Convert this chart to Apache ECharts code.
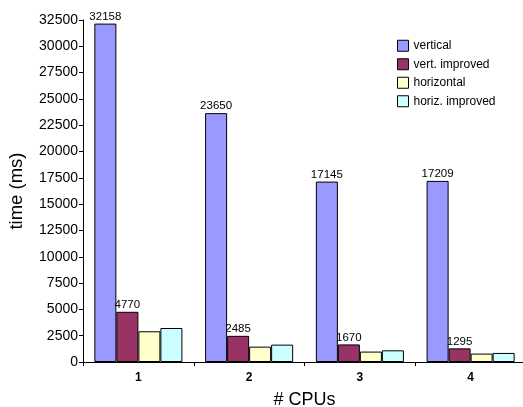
<!DOCTYPE html>
<html>
<head>
<meta charset="utf-8">
<script src="https://cdn.jsdelivr.net/npm/echarts@6/dist/echarts.min.js"></script>
<style>
  html, body { margin: 0; padding: 0; background: #fff; }
  #chart { width: 523px; height: 407px; }
</style>
</head>
<body>
<div id="chart"></div>
<script>
// data
const cpus = ['1', '2', '3', '4'];
const vertical = [32158, 23650, 17145, 17209];
const vertImproved = [4770, 2485, 1670, 1295];
const horizontal = [2920, 1460, 990, 800];
const horizImproved = [3230, 1650, 1110, 860];

const font = 'Liberation Sans, Arial, sans-serif';

function barSeries(name, data, color, withLabel) {
  return {
    name: name,
    type: 'bar',
    data: data,
    barGap: 0,
    barCategoryGap: '20.5%',
    itemStyle: { color: color, borderColor: '#000', borderWidth: 1 },
    label: {
      show: withLabel,
      position: 'top',
      distance: 1,
      color: '#000',
      fontFamily: font,
      fontSize: 11.5
    }
  };
}

const chart = echarts.init(document.getElementById('chart'));

chart.setOption({
  animation: false,
  backgroundColor: '#fff',
  grid: { left: 83, top: 20, width: 443, bottom: 45, outerBoundsMode: 'none', containLabel: false },
  legend: {
    orient: 'vertical',
    left: 397,
    top: 39,
    padding: 0,
    itemWidth: 11,
    itemHeight: 11,
    itemGap: 5,
    icon: 'rect',
    itemStyle: { borderColor: '#000', borderWidth: 1 },
    textStyle: { fontFamily: font, fontSize: 12, color: '#000', lineHeight: 13.5 },
    data: ['vertical', 'vert. improved', 'horizontal', 'horiz. improved']
  },
  xAxis: {
    type: 'category',
    data: cpus,
    name: '# CPUs',
    nameLocation: 'middle',
    nameGap: 29,
    nameTextStyle: { fontFamily: font, fontSize: 18, color: '#000' },
    axisLine: { lineStyle: { color: '#000', width: 1 } },
    axisTick: { show: true, length: 4, lineStyle: { color: '#000' } },
    axisLabel: { fontFamily: font, fontSize: 12, fontWeight: 'bold', color: '#000', margin: 10 }
  },
  yAxis: {
    type: 'value',
    min: 0,
    max: 32500,
    interval: 2500,
    name: 'time (ms)',
    nameLocation: 'middle',
    nameGap: 57,
    nameTextStyle: { fontFamily: font, fontSize: 18.5, color: '#000' },
    axisLine: { show: true, lineStyle: { color: '#000', width: 1 } },
    axisTick: { show: true, length: 4, lineStyle: { color: '#000' } },
    axisLabel: { fontFamily: font, fontSize: 14, color: '#000', margin: 5, formatter: v => String(v) },
    splitLine: { show: false }
  },
  series: [
    barSeries('vertical', vertical, '#9999FF', true),
    barSeries('vert. improved', vertImproved, '#993366', true),
    barSeries('horizontal', horizontal, '#FFFFCC', false),
    barSeries('horiz. improved', horizImproved, '#CCFFFF', false)
  ]
});
</script>
</body>
</html>
